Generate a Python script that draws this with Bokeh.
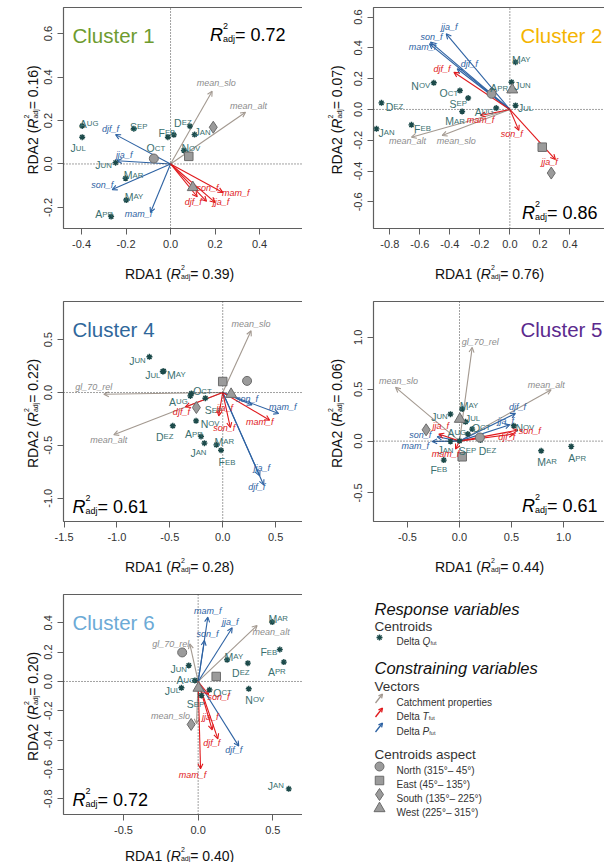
import math
from bokeh.plotting import figure
from bokeh.models import (ColumnDataSource, Arrow, OpenHead, Label, Range1d, LinearAxis,
                          FixedTicker, PrintfTickFormatter)
from bokeh.layouts import row, column
from bokeh.embed import file_html
from bokeh.resources import INLINE
from bokeh.core.properties import value

# ---------------------------------------------------------------- data
months = ["Jan", "Feb", "Mar", "Apr", "May", "Jun", "Jul", "Aug", "Sep", "Oct", "Nov", "Dez"]
seasons = ["djf_f", "mam_f", "jja_f", "son_f"]
aspect_names = ["North (315°– 45°)", "East (45°– 135°)", "South (135°– 225°)", "West (225°– 315°)"]

# Cluster 1
c1_month_x = [0.108, 0.015, -0.202, -0.267, -0.199, -0.247, -0.397, -0.397, -0.165, -0.012, 0.060, 0.087]
c1_month_y = [0.135, 0.134, -0.066, -0.242, -0.166, 0.006, 0.123, 0.175, 0.162, 0.123, 0.062, 0.174]
c1_p_x = [-0.247, -0.090, -0.240, -0.262]
c1_p_y = [0.135, -0.223, 0.015, -0.118]
c1_t_x = [0.120, 0.235, 0.200, 0.162]
c1_t_y = [-0.151, -0.131, -0.177, -0.172]
c1_prop_names = ["mean_slo", "mean_alt"]
c1_prop_x = [0.187, 0.337]
c1_prop_y = [0.335, 0.238]
c1_aspect_x = [-0.075, 0.082, 0.192, 0.100]
c1_aspect_y = [0.025, 0.035, 0.169, -0.108]

# Cluster 2
c2_month_x = [-0.889, -0.656, -0.318, -0.118, 0.038, 0.011, 0.038, -0.091, -0.278, -0.333, -0.507, -0.856]
c2_month_y = [-0.126, -0.100, -0.013, 0.123, 0.307, 0.177, 0.026, 0.009, 0.074, 0.123, 0.173, 0.043]
c2_p_x = [-0.351, -0.536, -0.424, -0.529]
c2_p_y = [0.264, 0.426, 0.491, 0.437]
c2_t_x = [-0.373, -0.196, 0.304, 0.060]
c2_t_y = [0.242, -0.039, -0.325, -0.136]
c2_prop_names = ["mean_alt", "mean_slo"]
c2_prop_x = [-0.656, -0.451]
c2_prop_y = [-0.180, -0.169]
c2_aspect_x = [-0.122, 0.216, 0.276, 0.016]
c2_aspect_y = [0.102, -0.245, -0.413, 0.128]

# Cluster 4
c4_month_x = [-0.173, -0.016, -0.060, -0.205, -0.558, -0.693, -0.567, -0.306, -0.164, -0.296, -0.252, -0.472]
c4_month_y = [-0.479, -0.546, -0.495, -0.416, 0.202, 0.338, 0.199, -0.032, -0.054, -0.009, -0.268, -0.315]
c4_p_x = [0.387, 0.529, 0.350, 0.277]
c4_p_y = [-0.874, -0.199, -0.789, -0.117]
c4_t_x = [-0.353, 0.444, -0.038, 0.072]
c4_t_y = [-0.136, -0.262, -0.221, -0.331]
c4_prop_names = ["gl_70_rel", "mean_alt", "mean_slo"]
c4_prop_x = [-1.124, -1.030, 0.268]
c4_prop_y = [-0.016, -0.400, 0.584]
c4_aspect_x = [0.230, 0.000, -0.249, 0.079]
c4_aspect_y = [0.110, 0.104, -0.142, -0.016]

# Cluster 5
c5_month_x = [-0.087, -0.151, 0.785, 1.074, 0.026, -0.087, 0.058, 0.080, 0.000, 0.122, 0.522, 0.202]
c5_month_y = [-0.003, -0.183, -0.093, -0.051, 0.309, 0.260, 0.186, 0.068, 0.003, 0.116, 0.148, 0.010]
c5_p_x = [0.538, -0.263, 0.484, -0.215]
c5_p_y = [0.267, -0.003, 0.158, 0.042]
c5_t_x = [0.522, -0.038, -0.199, 0.561]
c5_t_y = [0.068, -0.077, 0.068, 0.106]
c5_prop_names = ["gl_70_rel", "mean_slo", "mean_alt"]
c5_prop_x = [0.122, -0.615, 0.881]
c5_prop_y = [0.904, 0.518, 0.495]
c5_aspect_x = [0.196, 0.026, -0.321, 0.003]
c5_aspect_y = [0.035, -0.151, 0.109, 0.212]

# Cluster 6
c6_month_x = [0.607, 0.547, 0.496, 0.574, 0.194, -0.063, -0.112, -0.022, 0.022, 0.076, 0.339, 0.333]
c6_month_y = [-0.732, 0.218, 0.405, 0.132, 0.148, 0.109, -0.043, 0.007, -0.095, -0.057, -0.050, 0.125]
c6_p_x = [0.272, 0.065, 0.228, 0.042]
c6_p_y = [-0.441, 0.439, 0.366, 0.280]
c6_t_x = [0.132, 0.016, 0.094, 0.070]
c6_t_y = [-0.391, -0.595, -0.330, -0.090]
c6_prop_names = ["mean_alt", "gl_70_rel", "mean_slo"]
c6_prop_x = [0.395, -0.056, -0.011]
c6_prop_y = [0.382, 0.257, -0.289]
c6_aspect_x = [-0.107, 0.121, -0.047, 0.002]
c6_aspect_y = [0.198, 0.034, -0.293, -0.045]

r2_total = ["0.72", "0.86", "0.61", "0.61", "0.72"]
r2_axis1 = ["0.39", "0.76", "0.28", "0.44", "0.40"]
r2_axis2 = ["0.16", "0.07", "0.22", "0.06", "0.20"]

# ---------------------------------------------------------------- styles
FONT = "Liberation Sans"
STAR_COL = "#1c4a4a"
MLAB_COL = "#3a6f6f"
BLUE = "#2d62a3"
RED = "#e0191c"
GRAY_ARROW = "#a39990"
GRAY_LAB = "#8c8c8c"
CENT_FILL = "#9b9b9b"
CENT_LINE = "#6b6b6b"
BOX_COL = "#5f5f5f"
BIG_CAP, SMALL_CAP = 10.5, 7.8

# label offsets in pixels (dx right, dy down) relative to the point / arrow tip
c1_mlab_off = [(8, -6), (-7, -6), (8, -7), (-7, -6), (8, -7), (-12, -1), (-4, 7), (7, -6), (5, -6), (-12, 7), (7, -6), (-7, -7)]
c2_mlab_off = [(10, 0), (11, 0), (-7, 6), (7, -6), (6, -6), (11, 0), (10, -1), (-12, 0), (-10, 2), (-11, -1), (-13, -1), (13, 0)]
c4_mlab_off = [(-6, 6), (6, 8), (8, -7), (-7, -6), (13, 0), (-12, 0), (-10, 0), (-12, 2), (8, 8), (11, -6), (14, -1), (-8, 7)]
c5_mlab_off = [(-5, 5), (-5, 6), (6, 7), (6, 8), (7, -7), (-11, -1), (7, -7), (-11, -5), (8, 6), (9, -5), (11, -2), (7, 7)]
c6_mlab_off = [(-13, -7), (-11, -1), (6, -7), (-7, 6), (7, -7), (-10, 0), (-9, -1), (-9, -4), (-6, 5), (13, -1), (6, 7), (-7, 6)]

c1_lab_p = [(-5, -6), (-12, 2), (7, -6), (-10, -5)]
c1_lab_t = [(-4, 5), (13, 1), (6, 0), (1, -13)]
c1_lab_prop = [(4, -8), (3, -6)]
c2_lab_p = [(12, -5), (-7, 3), (3, -7), (1, -5)]
c2_lab_t = [(-12, -3), (0, 5), (-6, 2), (-7, 4)]
c2_lab_prop = [(-4, 4), (14, 6)]
c4_lab_p = [(-7, 2), (4, -7), (2, -8), (-5, -6)]
c4_lab_t = [(-4, 5), (-10, 2), (6, -8), (-6, 0)]
c4_lab_prop = [(-10, -7), (-5, 5), (0, -7)]
c5_lab_p = [(2, -6), (-17, 5), (-4, -4), (-17, -2)]
c5_lab_t = [(-7, 3), (-10, 5), (2, -8), (12, 1)]
c5_lab_prop = [(8, -5), (3, -6), (-5, -5)]
c6_lab_p = [(-5, 4), (0, -6), (-2, -6), (3, -6)]
c6_lab_t = [(-6, 4), (-8, 6), (-2, -13), (10, 2)]
c6_lab_prop = [(14, 7), (-19, 0), (-26, -8)]

AW = {' ': 278, '(': 333, ')': 333, '=': 584, '.': 278, '-': 333, '_': 556, '°': 400, '–': 556,
      'A': 667, 'B': 667, 'C': 722, 'D': 722, 'E': 667, 'F': 611, 'G': 778, 'H': 722, 'I': 278,
      'J': 500, 'K': 667, 'L': 556, 'M': 833, 'N': 722, 'O': 778, 'P': 667, 'Q': 778, 'R': 722,
      'S': 667, 'T': 611, 'U': 722, 'V': 667, 'W': 944, 'X': 667, 'Y': 667, 'Z': 611,
      'a': 556, 'b': 556, 'c': 500, 'd': 556, 'e': 556, 'f': 278, 'g': 556, 'h': 556, 'i': 222,
      'j': 222, 'k': 500, 'l': 222, 'm': 833, 'n': 556, 'o': 556, 'p': 556, 'q': 556, 'r': 333,
      's': 500, 't': 278, 'u': 556, 'v': 500, 'w': 722, 'x': 500, 'y': 500, 'z': 500}


def tw(s, size):
    return sum(AW.get(ch, 556) for ch in s) * size / 1000.0


def rich(p, tf, groups, along, base, align="left", vertical=False, color="#000000"):
    widths = [max(tw(t, s) for (t, s, st, sh) in g) for g in groups]
    total = sum(widths)
    if align == "left":
        start = along
    elif align == "center":
        start = along - total / 2.0
    else:
        start = along - total
    pos = start
    for g, w in zip(groups, widths):
        for (t, s, st, sh) in g:
            if vertical:
                x, y = tf(base - sh, along + total / 2.0 - (pos - start))
            else:
                x, y = tf(pos, base - sh)
            p.add_layout(Label(x=x, y=y, text=t, text_font=FONT, text_font_size=f"{s}px",
                               text_font_style=st, text_color=color, text_align="left",
                               text_baseline="alphabetic",
                               angle=(math.pi / 2 if vertical else 0.0)))
        pos += w


def r2_groups(val, big, small, sup, sub, prefix=None, suffix=""):
    g = []
    if prefix:
        g.append([(prefix, big, "normal", 0)])
    g.append([("R", big, "italic", 0)])
    g.append([("2", small, "normal", sup), ("adj", small, "normal", sub)])
    g.append([(" = " + val + suffix, big, "normal", 0)])
    return g


def style_axis(ax, ticks):
    ax.ticker = FixedTicker(ticks=ticks)
    ax.formatter = PrintfTickFormatter(format="%.1f")
    ax.axis_line_color = None
    ax.major_tick_line_color = BOX_COL
    ax.major_tick_out = 6
    ax.major_tick_in = 0
    ax.minor_tick_line_color = None
    ax.major_label_text_font = FONT
    ax.major_label_text_font_size = "11px"
    ax.major_label_text_color = "#333333"
    ax.major_label_standoff = 5


def make_panel(c):
    xs, xe = c["xr"]           # plot box extent (data)
    ys, ye = c["yr"]
    W, H, L, T, fh = c["width"], c["height"], c["left"], c["top"], c["fh"]
    fw = W - L
    kx = (xe - xs) / fw
    ky = (ye - ys) / fh
    # canvas-wide frame: the R-style box sits inside it
    p = figure(width=W, height=H,
               x_range=Range1d(xs - L * kx, xe),
               y_range=Range1d(ys - (H - T - fh) * ky, ye + T * ky),
               output_backend="svg", toolbar_location=None, title=None,
               x_axis_type=None, y_axis_type=None, min_border=0)
    p.grid.visible = False
    p.outline_line_color = None
    p.background_fill_color = "white"
    p.border_fill_color = "white"

    xax = LinearAxis(fixed_location=ys)
    style_axis(xax, [t for t in c["xticks"] if xs - 1e-9 <= t <= xe - 8 * kx])
    p.add_layout(xax, "below")
    yax = LinearAxis(fixed_location=xs)
    style_axis(yax, [t for t in c["yticks"] if ys - 1e-9 <= t <= ye + 1e-9])
    yax.major_label_orientation = "vertical"
    p.add_layout(yax, "left")

    def tf(px, py):
        return xs + px * kx, ye - py * ky

    # box (its right side runs past the panel edge, as in the cropped original) and zero lines
    p.quad(left=[xs], right=[xe + 20 * kx], bottom=[ys], top=[ye], fill_color=None,
           line_color=BOX_COL, line_width=1.2)
    p.segment(x0=[0.0, xs], y0=[ys, 0.0], x1=[0.0, xe], y1=[ye, 0.0],
              line_color="#444444", line_dash="1 2", line_width=1)

    def arrows(xl, yl, color):
        n = len(xl)
        src = ColumnDataSource(dict(x0=[0.0] * n, y0=[0.0] * n, x1=list(xl), y1=list(yl)))
        p.add_layout(Arrow(x_start="x0", y_start="y0", x_end="x1", y_end="y1", source=src,
                           line_color=color, line_width=1.1, level="underlay",
                           end=OpenHead(size=5, line_color=color, line_width=1.1)))

    arrows(c["prop_x"], c["prop_y"], GRAY_ARROW)
    arrows(c["p_x"], c["p_y"], BLUE)
    arrows(c["t_x"], c["t_y"], RED)

    # month centroids
    p.scatter(x=c["month_x"], y=c["month_y"], marker="asterisk", size=6,
              line_color=STAR_COL, line_width=1.4)
    # aspect centroids
    src = ColumnDataSource(dict(x=c["aspect_x"], y=c["aspect_y"],
                                marker=["circle", "square", "diamond", "triangle"],
                                size=[9, 8.5, 12, 11]))
    p.scatter("x", "y", marker="marker", size="size", source=src,
              fill_color=CENT_FILL, line_color=CENT_LINE, line_width=1)

    # month labels (small caps)
    fx, fy, ft, rx, ry, rt = [], [], [], [], [], []
    for m, x, y, (dx, dy) in zip(months, c["month_x"], c["month_y"], c["mlab_off"]):
        first, rest = m[0].upper(), m[1:].upper()
        w1, w2 = tw(first, BIG_CAP), tw(rest, SMALL_CAP)
        left = x + (dx - (w1 + w2) / 2.0) * kx
        base = y - (dy + 0.36 * BIG_CAP) * ky
        fx.append(left); fy.append(base); ft.append(first)
        rx.append(left + w1 * kx); ry.append(base); rt.append(rest)
    p.text(x=fx, y=fy, text=ft, text_font=value(FONT), text_font_size=f"{BIG_CAP}px",
           text_color=MLAB_COL, text_align="left", text_baseline="alphabetic")
    p.text(x=rx, y=ry, text=rt, text_font=value(FONT), text_font_size=f"{SMALL_CAP}px",
           text_color=MLAB_COL, text_align="left", text_baseline="alphabetic")

    def arrow_labels(names, xl, yl, offs, color):
        lx = [x + dx * kx for x, (dx, dy) in zip(xl, offs)]
        ly = [y - dy * ky for y, (dx, dy) in zip(yl, offs)]
        p.text(x=lx, y=ly, text=list(names), text_font=value(FONT), text_font_style="italic",
               text_font_size="9px", text_color=color, text_align="center", text_baseline="middle")

    arrow_labels(c["prop_names"], c["prop_x"], c["prop_y"], c["lab_prop"], GRAY_LAB)
    arrow_labels(seasons, c["p_x"], c["p_y"], c["lab_p"], BLUE)
    arrow_labels(seasons, c["t_x"], c["t_y"], c["lab_t"], RED)

    # title and R2
    tcy = 21
    tsize = 20.5
    if c["title_side"] == "left":
        rich(p, tf, [[(c["title"], tsize, "normal", 0)]], 9, tcy + 0.358 * tsize, "left", color=c["title_color"])
    else:
        rich(p, tf, [[(c["title"], tsize, "normal", 0)]], 229, tcy + 0.358 * tsize, "right", color=c["title_color"])
    g = r2_groups(c["r2"], 18, 9, 8.5, -4)
    pos = c["r2_pos"]
    if pos == "top-right":
        rich(p, tf, g, 227, tcy + 6.4, "right")
    elif pos == "bottom-right":
        rich(p, tf, g, 229, fh - 22 + 6.4, "right")
    else:
        rich(p, tf, g, 9, fh - 21 + 6.4, "left")

    # axis titles
    gx = r2_groups(c["ax1"], 14, 7, 6.5, -3, prefix="RDA1 (", suffix=")")
    rich(p, tf, gx, 118, fh + c["xtitle_gap"], "center", color="#111111")
    gy = r2_groups(c["ax2"], 14, 7, 6.5, -3, prefix="RDA2 (", suffix=")")
    rich(p, tf, gy, fh / 2.0, c["ytitle_base"], "center", vertical=True, color="#111111")
    return p


panels = [
    dict(title="Cluster 1", title_color="#6e9b2f", title_side="left", r2=r2_total[0], r2_pos="top-right",
         ax1=r2_axis1[0], ax2=r2_axis2[0], xr=(-0.481, 0.593), yr=(-0.297, 0.720),
         xticks=[-0.4, -0.2, 0.0, 0.2, 0.4, 0.6], yticks=[-0.2, 0.0, 0.2, 0.4, 0.6],
         width=302, height=288, left=63, top=7, fh=221, ytitle_base=-31, xtitle_gap=45,
         month_x=c1_month_x, month_y=c1_month_y, mlab_off=c1_mlab_off,
         p_x=c1_p_x, p_y=c1_p_y, t_x=c1_t_x, t_y=c1_t_y, lab_p=c1_lab_p, lab_t=c1_lab_t,
         prop_names=c1_prop_names, prop_x=c1_prop_x, prop_y=c1_prop_y, lab_prop=c1_lab_prop,
         aspect_x=c1_aspect_x, aspect_y=c1_aspect_y),
    dict(title="Cluster 2", title_color="#f4b400", title_side="right", r2=r2_total[1], r2_pos="bottom-right",
         ax1=r2_axis1[1], ax2=r2_axis2[1], xr=(-0.909, 0.631), yr=(-0.773, 0.662),
         xticks=[-0.8, -0.6, -0.4, -0.2, 0.0, 0.2, 0.4, 0.6], yticks=[-0.6, -0.4, -0.2, 0.0, 0.2, 0.4, 0.6],
         width=302, height=288, left=71, top=7, fh=221, ytitle_base=-37, xtitle_gap=45,
         month_x=c2_month_x, month_y=c2_month_y, mlab_off=c2_mlab_off,
         p_x=c2_p_x, p_y=c2_p_y, t_x=c2_t_x, t_y=c2_t_y, lab_p=c2_lab_p, lab_t=c2_lab_t,
         prop_names=c2_prop_names, prop_x=c2_prop_x, prop_y=c2_prop_y, lab_prop=c2_lab_prop,
         aspect_x=c2_aspect_x, aspect_y=c2_aspect_y),
    dict(title="Cluster 4", title_color="#2f679b", title_side="left", r2=r2_total[2], r2_pos="bottom-left",
         ax1=r2_axis1[2], ax2=r2_axis2[2], xr=(-1.505, 0.754), yr=(-1.220, 0.861),
         xticks=[-1.5, -1.0, -0.5, 0.0, 0.5], yticks=[-1.0, -0.5, 0.0, 0.5],
         width=302, height=290, left=63, top=13, fh=220, ytitle_base=-31, xtitle_gap=45,
         month_x=c4_month_x, month_y=c4_month_y, mlab_off=c4_mlab_off,
         p_x=c4_p_x, p_y=c4_p_y, t_x=c4_t_x, t_y=c4_t_y, lab_p=c4_lab_p, lab_t=c4_lab_t,
         prop_names=c4_prop_names, prop_x=c4_prop_x, prop_y=c4_prop_y, lab_prop=c4_lab_prop,
         aspect_x=c4_aspect_x, aspect_y=c4_aspect_y),
    dict(title="Cluster 5", title_color="#5b2a8e", title_side="right", r2=r2_total[3], r2_pos="bottom-right",
         ax1=r2_axis1[3], ax2=r2_axis2[3], xr=(-0.827, 1.394), yr=(-0.775, 1.346),
         xticks=[-0.5, 0.0, 0.5, 1.0], yticks=[-0.5, 0.0, 0.5, 1.0],
         width=302, height=290, left=71, top=13, fh=220, ytitle_base=-37, xtitle_gap=45,
         month_x=c5_month_x, month_y=c5_month_y, mlab_off=c5_mlab_off,
         p_x=c5_p_x, p_y=c5_p_y, t_x=c5_t_x, t_y=c5_t_y, lab_p=c5_lab_p, lab_t=c5_lab_t,
         prop_names=c5_prop_names, prop_x=c5_prop_x, prop_y=c5_prop_y, lab_prop=c5_lab_prop,
         aspect_x=c5_aspect_x, aspect_y=c5_aspect_y),
    dict(title="Cluster 6", title_color="#6caad6", title_side="left", r2=r2_total[4], r2_pos="bottom-left",
         ax1=r2_axis1[4], ax2=r2_axis2[4], xr=(-0.902, 0.699), yr=(-0.907, 0.593),
         xticks=[-0.5, 0.0, 0.5], yticks=[-0.8, -0.6, -0.4, -0.2, 0.0, 0.2, 0.4],
         width=302, height=284, left=63, top=16, fh=220, ytitle_base=-31, xtitle_gap=41,
         month_x=c6_month_x, month_y=c6_month_y, mlab_off=c6_mlab_off,
         p_x=c6_p_x, p_y=c6_p_y, t_x=c6_t_x, t_y=c6_t_y, lab_p=c6_lab_p, lab_t=c6_lab_t,
         prop_names=c6_prop_names, prop_x=c6_prop_x, prop_y=c6_prop_y, lab_prop=c6_lab_prop,
         aspect_x=c6_aspect_x, aspect_y=c6_aspect_y),
]

figs = [make_panel(c) for c in panels]

# ---------------------------------------------------------------- legend panel
LW, LH = 302, 284
lg = figure(width=LW, height=LH, x_range=Range1d(0, LW), y_range=Range1d(LH, 0),
            output_backend="svg", toolbar_location=None, title=None,
            x_axis_type=None, y_axis_type=None, min_border=0)
lg.grid.visible = False
lg.outline_line_color = None
lg.background_fill_color = "white"
lg.border_fill_color = "white"


def ltf(px, py):
    return px, py


def lrich(groups, x, cy, size, color="#222222"):
    rich(lg, ltf, groups, x, cy + 0.716 * size / 2.0, "left", color=color)


lrich([[("Response variables", 16.5, "italic", 0)]], 72, 25, 16.5, "#111111")
lrich([[("Centroids", 13.5, "normal", 0)]], 72, 43, 13.5, "#333333")
lg.scatter(x=[77], y=[59], marker="asterisk", size=6, line_color=STAR_COL, line_width=1.4)
lrich([[("Delta ", 10, "normal", 0)], [("Q", 10, "italic", 0)], [("fut", 5.5, "normal", -2)]], 94, 59, 10, "#333333")
lrich([[("Constraining variables", 16.5, "italic", 0)]], 72, 84, 16.5, "#111111")
lrich([[("Vectors", 13.5, "normal", 0)]], 72, 103, 13.5, "#333333")

legend_vectors = [("Catchment properties", None, GRAY_ARROW, 120),
                  ("Delta ", "T", RED, 134),
                  ("Delta ", "P", BLUE, 149)]
for txt, sym, col, cy in legend_vectors:
    src = ColumnDataSource(dict(x0=[73.0], y0=[cy + 4.5], x1=[80.0], y1=[cy - 4.5]))
    lg.add_layout(Arrow(x_start="x0", y_start="y0", x_end="x1", y_end="y1", source=src,
                        line_color=col, line_width=1.3,
                        end=OpenHead(size=4, line_color=col, line_width=1.3)))
    groups = [[(txt, 10, "normal", 0)]]
    if sym:
        groups += [[(sym, 10, "italic", 0)], [("fut", 5.5, "normal", -2)]]
    lrich(groups, 94, cy, 10, "#333333")

lrich([[("Centroids aspect", 13.5, "normal", 0)]], 72, 171, 13.5, "#333333")
aspect_rows = [188, 202, 216, 230]
asrc = ColumnDataSource(dict(x=[77, 77, 77, 77], y=aspect_rows,
                             marker=["circle", "square", "diamond", "triangle"],
                             size=[9, 8.5, 12, 11]))
lg.scatter("x", "y", marker="marker", size="size", source=asrc,
           fill_color=CENT_FILL, line_color=CENT_LINE, line_width=1)
for name, cy in zip(aspect_names, aspect_rows):
    lrich([[(name, 10, "normal", 0)]], 94, cy, 10, "#333333")

layout = column(row(figs[0], figs[1]), row(figs[2], figs[3]), row(figs[4], lg))
open("out.html", "w").write(file_html(layout, INLINE))
